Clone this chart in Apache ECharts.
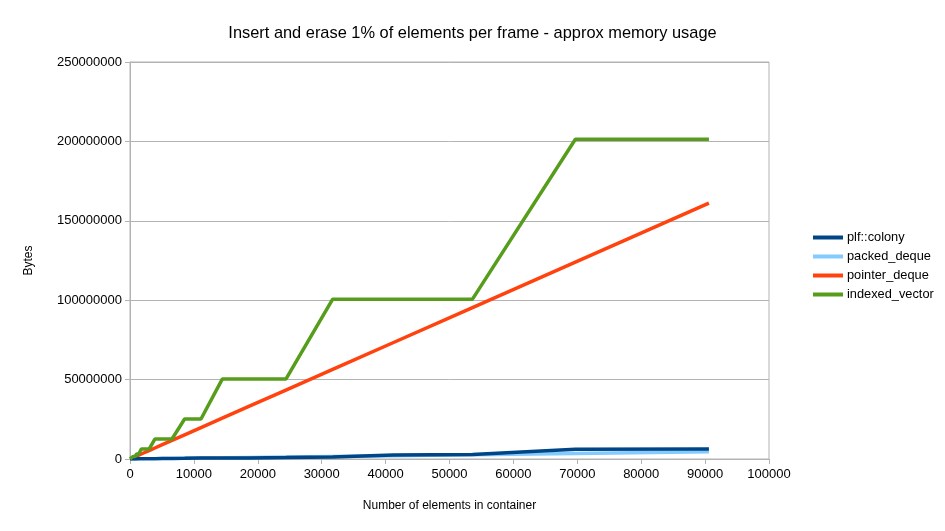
<!DOCTYPE html>
<html>
<head>
<meta charset="utf-8">
<script src="https://cdn.jsdelivr.net/npm/echarts@6/dist/echarts.min.js"></script>
<style>
  html, body { margin: 0; padding: 0; background: #ffffff; }
  #chart { width: 945px; height: 531px; }
</style>
</head>
<body>
<div id="chart"></div>
<script>
// number of elements in container (x values)
const elementCounts = [10, 128, 477, 806, 1047, 1362, 1770, 2301, 2992, 3890, 5056, 6573, 8545, 11110, 14440, 18770, 24400, 31720, 41240, 53600, 69700, 90600];

// approx memory usage in bytes, one value per element count
const colonyBytes = [2000, 8000, 30000, 50000, 60000, 80000, 100000, 130000, 170000, 220000, 280000, 330000, 420000, 560000, 650000, 700000, 900000, 1200000, 2500000, 2900000, 6200000, 6300000];
const packedDequeBytes = [500, 6400, 24000, 40000, 52000, 68000, 88000, 115000, 150000, 195000, 253000, 330000, 430000, 560000, 720000, 940000, 1220000, 1590000, 2060000, 2680000, 3480000, 4530000];
const pointerDequeBytes = [17800, 228000, 849000, 1434000, 1863000, 2423000, 3149000, 4094000, 5323000, 6920000, 8995000, 11693000, 15202000, 19765000, 25689000, 33392000, 43408000, 56430000, 73366000, 95354000, 123996000, 161177000];
const indexedVectorBytes = [24576, 393216, 1572864, 1572864, 3145728, 3145728, 6291456, 6291456, 6291456, 12582912, 12582912, 12582912, 25165824, 25165824, 50331648, 50331648, 50331648, 100663296, 100663296, 100663296, 201326592, 201326592];

const seriesNames = ['plf::colony', 'packed_deque', 'pointer_deque', 'indexed_vector'];
const seriesColors = ['#004586', '#83caff', '#ff420e', '#579d1c'];
const seriesValues = [colonyBytes, packedDequeBytes, pointerDequeBytes, indexedVectorBytes];

const font = '"Liberation Sans", Arial, sans-serif';
const gridColor = '#b3b3b3';

const chart = echarts.init(document.getElementById('chart'));

const option = {
  animation: false,
  backgroundColor: '#ffffff',
  title: {
    text: 'Insert and erase 1% of elements per frame - approx memory usage',
    left: 'center',
    top: 20,
    textStyle: { fontFamily: font, fontSize: 16.4, fontWeight: 'normal', color: '#000000' }
  },
  legend: {
    orient: 'vertical',
    left: 808,
    top: 226,
    padding: 5,
    icon: 'rect',
    itemWidth: 30,
    itemHeight: 4,
    itemGap: 6,
    textStyle: { fontFamily: font, fontSize: 12.8, color: '#000000', padding: [0, 0, 0, -1] },
    data: seriesNames
  },
  grid: {
    left: 130,
    right: 176,
    top: 62,
    bottom: 72,
    show: true,
    borderColor: gridColor,
    borderWidth: 1
  },
  xAxis: {
    type: 'value',
    min: 0,
    max: 100000,
    interval: 10000,
    name: 'Number of elements in container',
    nameLocation: 'middle',
    nameGap: 41,
    nameTextStyle: { fontFamily: font, fontSize: 12, color: '#000000' },
    axisLine: { lineStyle: { color: gridColor } },
    axisTick: { show: true, length: 5, lineStyle: { color: gridColor } },
    axisLabel: {
      fontFamily: font,
      fontSize: 13,
      color: '#000000',
      margin: 9,
      formatter: (v) => String(v)
    },
    splitLine: { show: false }
  },
  yAxis: {
    type: 'value',
    min: 0,
    max: 250000000,
    interval: 50000000,
    name: 'Bytes',
    nameLocation: 'middle',
    nameGap: 95,
    nameTextStyle: { fontFamily: font, fontSize: 12, color: '#000000' },
    axisLine: { show: true, lineStyle: { color: gridColor } },
    axisTick: { show: true, length: 5, lineStyle: { color: gridColor } },
    axisLabel: {
      fontFamily: font,
      fontSize: 13,
      color: '#000000',
      margin: 8,
      formatter: (v) => String(v)
    },
    splitLine: { show: true, lineStyle: { color: gridColor, width: 1 } }
  },
  series: seriesNames.map((name, i) => ({
    name: name,
    type: 'line',
    data: elementCounts.map((x, j) => [x, seriesValues[i][j]]),
    showSymbol: false,
    symbol: 'none',
    z: i === 0 ? 5 : 2 + i,
    color: seriesColors[i],
    lineStyle: { color: seriesColors[i], width: 3.5 }
  }))
};

chart.setOption(option);
</script>
</body>
</html>
